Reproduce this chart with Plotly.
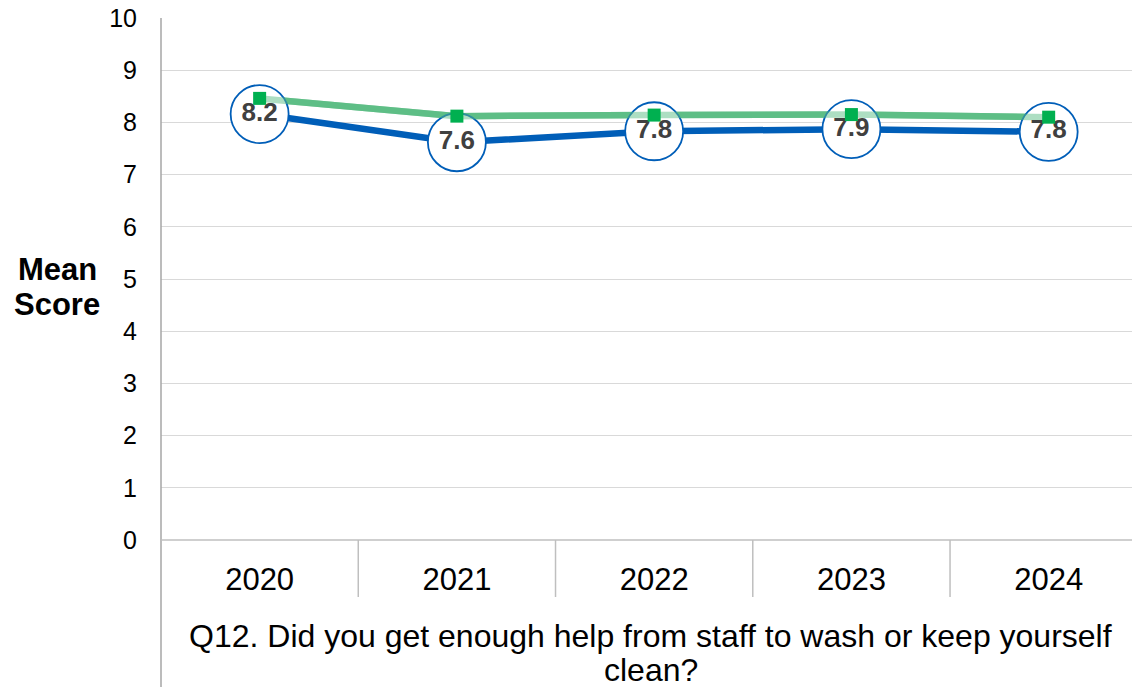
import plotly.graph_objects as go

years = ["2020", "2021", "2022", "2023", "2024"]
trust_scores = [8.16, 7.62, 7.83, 7.87, 7.82]
national_scores = [8.46, 8.12, 8.14, 8.15, 8.10]
y_ticks = [0, 1, 2, 3, 4, 5, 6, 7, 8, 9, 10]
question_lines = ["Q12. Did you get enough help from staff to wash or keep yourself",
                  "clean?"]
y_title_lines = ["Mean", "Score"]

xs = list(range(len(years)))
labels = [f"{v:.1f}" for v in trust_scores]

BLUE = "#005EB8"
GREEN_LINE = "#5EBE86"
GREEN_MARK = "#00B050"
FONT = "Arial, Liberation Sans, sans-serif"

fig = go.Figure()
fig.add_trace(go.Scatter(x=xs, y=trust_scores, mode="lines",
                         line=dict(color=BLUE, width=6.5), hoverinfo="skip"))
fig.add_trace(go.Scatter(x=xs, y=national_scores, mode="lines",
                         line=dict(color=GREEN_LINE, width=6.5), hoverinfo="skip"))
fig.add_trace(go.Scatter(x=xs, y=trust_scores, mode="markers",
                         marker=dict(symbol="circle", size=58, color="white",
                                     line=dict(color=BLUE, width=1.8)),
                         hoverinfo="skip"))
fig.add_trace(go.Scatter(x=xs, y=national_scores, mode="lines",
                         line=dict(color=GREEN_LINE, width=6.5), opacity=0.5,
                         hoverinfo="skip"))
fig.add_trace(go.Scatter(x=xs, y=trust_scores, mode="text", text=labels,
                         textposition="middle center",
                         textfont=dict(family=FONT, size=26,
                                       color="#404040", weight="bold"),
                         hoverinfo="skip"))
fig.add_trace(go.Scatter(x=xs, y=national_scores, mode="markers",
                         marker=dict(symbol="square", size=13, color=GREEN_MARK),
                         hoverinfo="skip"))

xmin, xmax = -0.5, 4.463
plot_h = 522.0
shapes = []
for i in range(len(years) - 1):
    xp = (i + 0.5 - xmin) / (xmax - xmin)
    shapes.append(dict(type="line", xref="paper", yref="paper", x0=xp, x1=xp,
                       y0=0, y1=-57 / plot_h, line=dict(color="#BFBFBF", width=1.5)))
shapes.append(dict(type="line", xref="paper", yref="paper", x0=0, x1=0,
                   y0=1, y1=-150 / plot_h, line=dict(color="#A6A6A6", width=1.5)))
shapes.append(dict(type="line", xref="paper", yref="paper", x0=0, x1=1,
                   y0=0, y1=0, line=dict(color="#BFBFBF", width=1.5)))

annotations = [
    dict(text=f"<b>{y_title_lines[0]}</b>", xref="paper", yref="paper",
         x=-0.106, y=(540 - 269) / plot_h, xanchor="center", yanchor="middle",
         showarrow=False, font=dict(family=FONT, size=31, color="black")),
    dict(text=f"<b>{y_title_lines[1]}</b>", xref="paper", yref="paper",
         x=-0.106, y=(540 - 304) / plot_h, xanchor="center", yanchor="middle",
         showarrow=False, font=dict(family=FONT, size=31, color="black")),
    dict(text=question_lines[0], xref="paper", yref="paper", x=0.5,
         y=(540 - 636) / plot_h, xanchor="center", yanchor="middle",
         showarrow=False, font=dict(family=FONT, size=32, color="black")),
    dict(text=question_lines[1], xref="paper", yref="paper", x=0.5,
         y=(540 - 670) / plot_h, xanchor="center", yanchor="middle",
         showarrow=False, font=dict(family=FONT, size=32, color="black")),
]

fig.update_layout(
    width=1132, height=679,
    margin=dict(l=153, r=0, t=10, b=147, autoexpand=False),
    paper_bgcolor="white", plot_bgcolor="white",
    showlegend=False,
    font=dict(family=FONT, color="black"),
    xaxis=dict(range=[xmin, xmax], tickvals=xs, ticktext=years,
               showgrid=False, zeroline=False, showline=False,
               tickfont=dict(size=31, color="black"), ticks="",
               ticklabelstandoff=18, automargin=False, fixedrange=True),
    yaxis=dict(range=[0, 10], tickvals=y_ticks, showgrid=True,
               gridcolor="#D9D9D9", gridwidth=1.2, zeroline=False,
               showline=False, tickfont=dict(size=25, color="black"),
               ticks="", ticklabelstandoff=23, ticklabeloverflow="allow",
               automargin=False, fixedrange=True),
    shapes=shapes,
    annotations=annotations,
)

fig.write_html("out.html")
